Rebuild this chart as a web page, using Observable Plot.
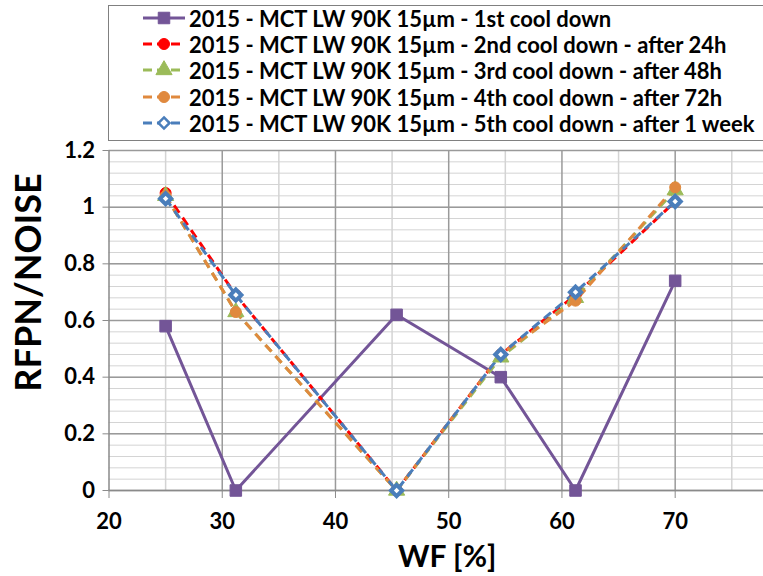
<!DOCTYPE html>
<html>
<head>
<meta charset="utf-8">
<script src="https://cdn.jsdelivr.net/npm/d3@7"></script>
<script src="https://cdn.jsdelivr.net/npm/@observablehq/plot@0.6"></script>
<style>
  html, body { margin: 0; padding: 0; background: #fff; }
  #wrap { position: relative; width: 763px; height: 576px; overflow: hidden; font-family: Lato, "Liberation Sans", sans-serif; font-weight: bold; }
  #legend { position: absolute; left: 108px; top: 5px; width: 660px; height: 136px; border: 1px solid #808080; box-sizing: border-box; }
  .row { position: absolute; left: 34px; height: 26px; display: flex; align-items: center; font-size: 22px; color: #000; white-space: nowrap; }
  .row svg { margin-right: 4px; }
  #chart { position: absolute; left: 0; top: 145px; }
</style>
</head>
<body>
<div id="wrap">
  <div id="legend"></div>
  <div id="chart"></div>
</div>
<script>
// ---- data ----
const wf = [25, 31.2, 45.4, 54.6, 61.2, 70];
const s1 = [0.58, 0, 0.62, 0.40, 0, 0.74];
const s2 = [1.05, 0.69, 0, 0.48, 0.69, 1.02];
const s3 = [1.04, 0.63, 0, 0.47, 0.68, 1.06];
const s4 = [1.04, 0.63, 0, 0.48, 0.67, 1.07];
const s5 = [1.03, 0.69, 0, 0.48, 0.70, 1.02];
const seriesNames = [
  "2015 - MCT LW 90K 15µm - 1st cool down",
  "2015 - MCT LW 90K 15µm - 2nd cool down - after 24h",
  "2015 - MCT LW 90K 15µm - 3rd cool down - after 48h",
  "2015 - MCT LW 90K 15µm - 4th cool down - after 72h",
  "2015 - MCT LW 90K 15µm - 5th cool down - after 1 week"
];
const xTicks = [20, 30, 40, 50, 60, 70];
const yTicks = [0, 0.2, 0.4, 0.6, 0.8, 1, 1.2];
const xLabel = "WF [%]";
const yLabel = "RFPN/NOISE";

// ---- styles ----
const colors = ["#735597", "#ff0000", "#9bbb59", "#e0893e", "#4a7ebb"];
const symbols = ["square", "circle", "triangle", "circle", "diamond2"];
const dashes = [null, "9,6", "9,6", "9,6", "9,6"];
const radii = [6.5, 5.5, 6, 5.5, 5];

const allSeries = [s1, s2, s3, s4, s5];
const data = allSeries.flatMap((vals, i) => vals.map((v, j) => ({x: wf[j], y: v, s: i})));

const minorY = d3.range(0, 1.2001, 0.04).map(v => +v.toFixed(2));
const minorX = [25, 35, 45, 55, 65, 75];
const majorX = [30, 40, 50, 60, 70];

const marks = [
  Plot.gridY(minorY, {stroke: "#d4d4d4", strokeOpacity: 1, strokeWidth: 1}),
  Plot.gridX(minorX, {stroke: "#d4d4d4", strokeOpacity: 1, strokeWidth: 1.5}),
  Plot.gridX(majorX, {stroke: "#9a9a9a", strokeOpacity: 1, strokeWidth: 1.5}),
  Plot.gridY(yTicks, {stroke: "#9a9a9a", strokeOpacity: 1, strokeWidth: 1.5}),
  Plot.ruleX([20], {stroke: "#8a8a8a", strokeWidth: 1.5}),
  Plot.ruleY([0], {stroke: "#8a8a8a", strokeWidth: 1.5}),
  Plot.axisY({ticks: yTicks, tickSize: 6, tickPadding: 8, fontSize: 22, fontWeight: "bold", label: null, stroke: "#8a8a8a", tickFormat: d => d3.format("~g")(d)}),
  Plot.axisX({ticks: xTicks, tickSize: 8, tickPadding: 15, fontSize: 22, fontWeight: "bold", label: null, stroke: "#8a8a8a"}),
  Plot.text([yLabel], {frameAnchor: "left", dx: -80, dy: -38, rotate: -90, textAnchor: "middle", lineAnchor: "middle", fontSize: 36, fontWeight: "bold", fill: "#000"}),
  Plot.text([xLabel], {frameAnchor: "bottom", dx: 11, dy: 67, textAnchor: "middle", lineAnchor: "middle", fontSize: 30, fontWeight: "bold", fill: "#000"})
];

allSeries.forEach((vals, i) => {
  const d = data.filter(r => r.s === i);
  marks.push(Plot.line(d, {x: "x", y: "y", stroke: colors[i], strokeWidth: 3, strokeDasharray: dashes[i], strokeLinecap: "butt"}));
});
allSeries.forEach((vals, i) => {
  const d = data.filter(r => r.s === i);
  marks.push(Plot.dot(d, {x: "x", y: "y", symbol: () => symbols[i], r: radii[i],
    fill: i === 4 ? "#ffffff" : colors[i], stroke: colors[i], strokeWidth: i === 4 ? 4 : 1}));
});

const chart = Plot.plot({
  width: 763,
  height: 431,
  marginLeft: 108.5,
  marginRight: 0,
  marginTop: 5,
  marginBottom: 86,
  x: {domain: [20, 77.8]},
  y: {domain: [0, 1.2]},
  symbol: {type: "identity"},
  style: {fontFamily: "Lato, 'Liberation Sans', sans-serif", color: "#000", background: "#fff", overflow: "visible"},
  marks
});
document.getElementById("chart").appendChild(chart);

// ---- legend (HTML) ----
const legend = document.getElementById("legend");
const rowTops = [-1, 25, 51, 78, 104];
seriesNames.forEach((name, i) => {
  const row = document.createElement("div");
  row.className = "row";
  row.style.top = rowTops[i] + "px";
  const sw = d3.create("svg").attr("width", 42).attr("height", 20);
  sw.append("line").attr("x1", 0).attr("x2", 42).attr("y1", 10).attr("y2", 10)
    .attr("stroke", colors[i]).attr("stroke-width", 3)
    .attr("stroke-dasharray", i === 0 ? null : "9,5");
  const sym = {square: d3.symbolSquare, circle: d3.symbolCircle, triangle: d3.symbolTriangle, diamond2: d3.symbolDiamond2}[symbols[i]];
  sw.append("path").attr("transform", "translate(21,10)")
    .attr("d", d3.symbol(sym, Math.PI * radii[i] * radii[i])())
    .attr("fill", i === 4 ? "#fff" : colors[i]).attr("stroke", colors[i]).attr("stroke-width", i === 4 ? 2.5 : 1);
  row.appendChild(sw.node());
  const t = document.createElement("span");
  t.textContent = name;
  row.appendChild(t);
  legend.appendChild(row);
});
</script>
</body>
</html>
